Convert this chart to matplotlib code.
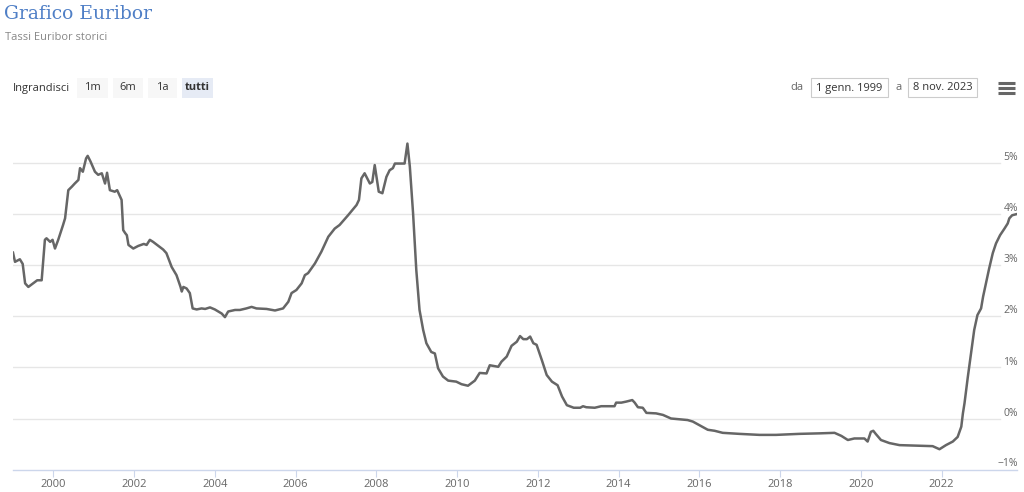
import matplotlib
matplotlib.use("Agg")
import matplotlib.pyplot as plt
from matplotlib.patches import Rectangle
import matplotlib.transforms as mtransforms

# Euribor, data (anno decimale, tasso %)
anni = [
    1999.00, 1999.05, 1999.17, 1999.24, 1999.30, 1999.38, 1999.50, 1999.60, 1999.71, 1999.79,
    1999.83, 1999.92, 1999.98, 2000.04, 2000.12, 2000.24, 2000.29, 2000.37, 2000.46, 2000.53,
    2000.62, 2000.66, 2000.73, 2000.81, 2000.85, 2000.92, 2001.03, 2001.11, 2001.20, 2001.28,
    2001.33, 2001.40, 2001.52, 2001.58, 2001.69, 2001.73, 2001.78, 2001.82, 2001.86, 2001.98,
    2002.10, 2002.24, 2002.31, 2002.39, 2002.47, 2002.62, 2002.72, 2002.80, 2002.93, 2003.05,
    2003.15, 2003.18, 2003.22, 2003.30, 2003.38, 2003.45, 2003.55, 2003.67, 2003.76, 2003.88,
    2004.00, 2004.17, 2004.25, 2004.33, 2004.50, 2004.62, 2004.78, 2004.91, 2005.03, 2005.28,
    2005.49, 2005.69, 2005.82, 2005.90, 2006.02, 2006.15, 2006.23, 2006.31, 2006.48, 2006.64,
    2006.81, 2006.97, 2007.09, 2007.30, 2007.51, 2007.57, 2007.63, 2007.71, 2007.84, 2007.90,
    2007.96, 2008.01, 2008.06, 2008.15, 2008.25, 2008.33, 2008.41, 2008.46, 2008.70, 2008.77,
    2008.83, 2008.91, 2008.99, 2009.07, 2009.16, 2009.24, 2009.36, 2009.45, 2009.53, 2009.65,
    2009.78, 2009.98, 2010.11, 2010.27, 2010.44, 2010.56, 2010.73, 2010.81, 2011.02, 2011.10,
    2011.23, 2011.35, 2011.48, 2011.56, 2011.64, 2011.73, 2011.81, 2011.89, 2011.97, 2012.10,
    2012.22, 2012.35, 2012.49, 2012.60, 2012.72, 2012.89, 2013.05, 2013.12, 2013.20, 2013.41,
    2013.57, 2013.90, 2013.94, 2014.07, 2014.19, 2014.34, 2014.40, 2014.48, 2014.60, 2014.69,
    2014.93, 2015.10, 2015.30, 2015.71, 2015.84, 2016.00, 2016.21, 2016.38, 2016.58, 2016.99,
    2017.49, 2017.90, 2018.48, 2018.98, 2019.35, 2019.52, 2019.68, 2019.84, 2020.09, 2020.17,
    2020.25, 2020.31, 2020.37, 2020.50, 2020.71, 2020.96, 2021.37, 2021.78, 2021.95, 2022.11,
    2022.28, 2022.40, 2022.49, 2022.53, 2022.57, 2022.65, 2022.73, 2022.81, 2022.89, 2022.98,
    2023.03, 2023.12, 2023.18, 2023.27, 2023.35, 2023.45, 2023.56, 2023.64, 2023.68, 2023.75,
    2023.85,
]
tassi = [
    3.24, 3.06, 3.11, 3.02, 2.64, 2.57, 2.64, 2.70, 2.70, 3.49,
    3.52, 3.45, 3.49, 3.32, 3.49, 3.78, 3.91, 4.46, 4.53, 4.59,
    4.66, 4.89, 4.82, 5.08, 5.13, 5.02, 4.82, 4.76, 4.79, 4.59,
    4.80, 4.46, 4.43, 4.46, 4.27, 3.68, 3.62, 3.58, 3.39, 3.32,
    3.37, 3.41, 3.39, 3.49, 3.45, 3.36, 3.30, 3.23, 2.96, 2.80,
    2.57, 2.48, 2.57, 2.54, 2.45, 2.15, 2.13, 2.15, 2.14, 2.17,
    2.13, 2.05, 1.98, 2.09, 2.12, 2.12, 2.15, 2.18, 2.15, 2.14,
    2.11, 2.15, 2.28, 2.45, 2.51, 2.64, 2.80, 2.84, 3.03, 3.26,
    3.55, 3.71, 3.78, 3.97, 4.17, 4.27, 4.69, 4.79, 4.59, 4.62,
    4.95, 4.69, 4.43, 4.40, 4.72, 4.85, 4.89, 4.98, 4.98, 5.37,
    4.92, 4.01, 2.90, 2.12, 1.73, 1.47, 1.30, 1.27, 0.98, 0.82,
    0.74, 0.72, 0.67, 0.64, 0.74, 0.89, 0.88, 1.04, 1.01, 1.11,
    1.21, 1.42, 1.50, 1.61, 1.55, 1.55, 1.60, 1.47, 1.44, 1.14,
    0.85, 0.72, 0.65, 0.43, 0.26, 0.21, 0.21, 0.24, 0.22, 0.21,
    0.24, 0.24, 0.31, 0.31, 0.33, 0.36, 0.31, 0.22, 0.21, 0.11,
    0.10, 0.07, 0.00, -0.03, -0.06, -0.13, -0.22, -0.24, -0.28, -0.30,
    -0.32, -0.32, -0.30, -0.29, -0.28, -0.34, -0.42, -0.39, -0.39, -0.45,
    -0.26, -0.24, -0.30, -0.42, -0.48, -0.52, -0.53, -0.54, -0.60, -0.52,
    -0.45, -0.36, -0.16, 0.10, 0.30, 0.80, 1.27, 1.73, 2.02, 2.15,
    2.38, 2.71, 2.93, 3.23, 3.42, 3.58, 3.71, 3.81, 3.91, 3.97,
    3.99,
]
anni_tick = [2000, 2002, 2004, 2006, 2008, 2010, 2012, 2014, 2016, 2018, 2020, 2022]
livelli_y = [-1, 0, 1, 2, 3, 4, 5]
pulsanti = ["1m", "6m", "1a", "tutti"]

W, H = 1024, 492
fig = plt.figure(figsize=(W / 100, H / 100), dpi=100)
fig.patch.set_facecolor("white")


def fx(px):
    return px / W


def fy(py):
    return 1 - py / H


# area del grafico in pixel
x0, x1 = 13, 1017
y_top, y_bot = 131.8, 469.7
ax = fig.add_axes([fx(x0), fy(y_bot), fx(x1) - fx(x0), fy(y_top) - fy(y_bot)])
ax.set_xlim(1999.0, 2023.87)
ax.set_ylim(-1, 5.6)

grid_end = (1000 - x0) / (x1 - x0)
for v in livelli_y[1:]:
    ax.axhline(v, xmin=0, xmax=grid_end, color="#e6e6e6", lw=1, zorder=1)

ax.plot(anni, tassi, color="#666666", lw=1.8, solid_joinstyle="round", zorder=3)

for s in ["top", "left", "right"]:
    ax.spines[s].set_visible(False)
ax.spines["bottom"].set_color("#ccd6eb")
ax.spines["bottom"].set_linewidth(1)
ax.set_yticks([])
ax.set_xticks(anni_tick)
ax.set_xticklabels([str(a) for a in anni_tick], fontsize=8, color="#666666",
                   fontfamily="Open Sans")
ax.tick_params(axis="x", length=5, color="#ccd6eb", pad=2)

# etichette asse y a destra, sopra la linea di griglia
trans = mtransforms.blended_transform_factory(fig.transFigure, ax.transData)
for v in livelli_y:
    lab = f"\u2212{abs(v)}%" if v < 0 else f"{v}%"
    dy = 0.1 if v > -1 else 0.13
    ax.text(fx(1018), v + dy, lab, transform=trans, ha="right", va="center",
            fontsize=7.5, color="#666666", fontfamily="Open Sans")

# titolo e sottotitolo
fig.text(fx(4), fy(14), "Grafico Euribor", fontsize=13.5, color="#4f7fc6",
         fontfamily="DejaVu Serif", va="center", ha="left")
fig.text(fx(5), fy(37), "Tassi Euribor storici", fontsize=8, color="#888888",
         fontfamily="Open Sans", va="center", ha="left")

# barra zoom
fig.text(fx(13), fy(88), "Ingrandisci", fontsize=8, color="#333333",
         fontfamily="Open Sans", va="center", ha="left")
box_x = [77, 113, 148, 182]
box_w = [31, 30, 29, 31]
for lab, bx, bw in zip(pulsanti, box_x, box_w):
    attivo = lab == "tutti"
    fig.patches.append(Rectangle((fx(bx), fy(98)), bw / W, 20 / H,
                                 transform=fig.transFigure,
                                 facecolor="#e6ebf5" if attivo else "#f7f7f7",
                                 edgecolor="none"))
    fig.text(fx(bx + bw / 2), fy(88), lab, fontsize=8, color="#333333",
             fontfamily="Open Sans", fontweight="bold" if attivo else "normal",
             va="center", ha="center")

# intervallo date
fig.text(fx(790), fy(88), "da", fontsize=8, color="#666666",
         fontfamily="Open Sans", va="center", ha="left")
fig.text(fx(895), fy(88), "a", fontsize=8, color="#666666",
         fontfamily="Open Sans", va="center", ha="left")
for bx, bw, lab in [(811, 77, "1 genn. 1999"), (908, 69, "8 nov. 2023")]:
    fig.patches.append(Rectangle((fx(bx), fy(97)), bw / W, 19 / H,
                                 transform=fig.transFigure,
                                 facecolor="white", edgecolor="#cccccc", lw=0.8))
    fig.text(fx(bx + bw / 2), fy(88), lab, fontsize=8, color="#333333",
             fontfamily="Open Sans", va="center", ha="center")

# icona menu
for ly in [83.3, 88.3, 93.3]:
    fig.lines.append(plt.Line2D([fx(998), fx(1015)], [fy(ly), fy(ly)],
                                transform=fig.transFigure, color="#666666",
                                lw=2.2, solid_capstyle="butt"))

fig.savefig("out.png", dpi=100, facecolor="white")
